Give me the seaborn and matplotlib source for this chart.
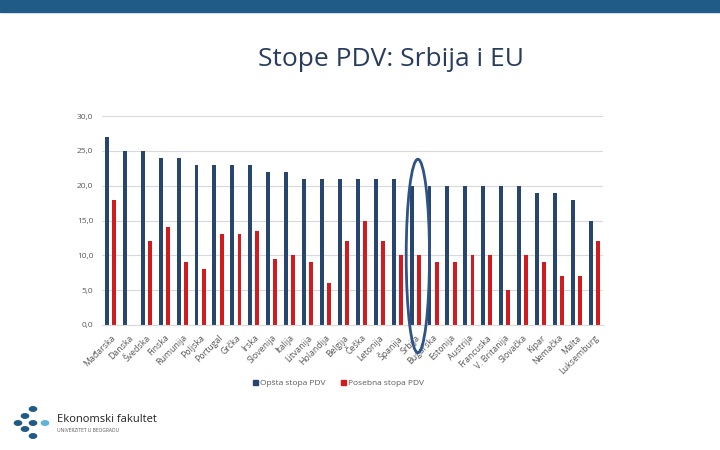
import pandas as pd
import seaborn as sns
import matplotlib.pyplot as plt
from matplotlib.patches import Ellipse, Rectangle

zemlje = ['Mađarska', 'Danska', 'Švedska', 'Finska', 'Rumunija', 'Poljska', 'Portugal',
          'Grčka', 'Irska', 'Slovenija', 'Italija', 'Litvanija', 'Holandija', 'Belgija',
          'Češka', 'Letonija', 'Španija', 'Srbija', 'Bugarska', 'Estonija', 'Austrija',
          'Francuska', 'V. Britanija', 'Slovačka', 'Kipar', 'Nemačka', 'Malta', 'Luksemburg']
opsta = [27, 25, 25, 24, 24, 23, 23, 23, 23, 22, 22, 21, 21, 21,
         21, 21, 21, 20, 20, 20, 20, 20, 20, 20, 19, 19, 18, 15]
posebna = [18, 0, 12, 14, 9, 8, 13, 13, 13.5, 9.5, 10, 9, 6, 12,
           15, 12, 10, 10, 9, 9, 10, 10, 5, 10, 9, 7, 7, 12]
serije = ['Opšta stopa PDV', 'Posebna stopa PDV']
boje = ['#27466f', '#d01c1f']

df = pd.DataFrame({
    'Zemlja': zemlje * 2,
    'Stopa': opsta + posebna,
    'Vrsta': [serije[0]] * len(zemlje) + [serije[1]] * len(zemlje),
})

sns.set_style('white')
plt.rcParams['font.family'] = ['Open Sans', 'DejaVu Sans']

fig = plt.figure(figsize=(7.2, 4.5), dpi=100)
ax = fig.add_axes([0.141, 0.278, 0.697, 0.464])

sns.barplot(data=df, x='Zemlja', y='Stopa', hue='Vrsta', palette=boje,
            width=0.8, gap=0.45, linewidth=0, saturation=1, ax=ax, legend=False)

ax.set_ylim(0, 30)
ax.set_xlim(-0.5, len(zemlje) - 0.5)
ax.set_yticks(range(0, 31, 5))
ax.set_yticklabels([f'{v},0' for v in range(0, 31, 5)], fontsize=6, color='#595959')
ax.set_xticks(range(len(zemlje)))
ax.set_xticklabels(zemlje, rotation=45, ha='right', rotation_mode='anchor',
                   fontsize=6.3, color='#595959')
ax.tick_params(axis='both', length=0, pad=6)
ax.grid(axis='y', color='#d9d9d9', linewidth=0.8)
ax.set_axisbelow(True)
for s in ['top', 'right', 'left']:
    ax.spines[s].set_visible(False)
ax.spines['bottom'].set_color('#d9d9d9')
ax.set_xlabel('')
ax.set_ylabel('')

# Srbija istaknuta elipsom
ax.add_patch(Ellipse((17.15, 9.9), 1.3, 27.8, fill=False, edgecolor='#2f5387',
                     linewidth=2, clip_on=False, zorder=5))

# legenda
handles = [plt.Rectangle((0, 0), 1, 1, color=c) for c in boje]
fig.legend(handles, serije, loc='center', bbox_to_anchor=(0.47, 0.148), ncol=2,
           frameon=False, fontsize=6, handlelength=0.6, handleheight=0.6,
           handletextpad=0.3, columnspacing=1.8, labelcolor='#595959')

# gornja traka i naslov
fig.patches.append(Rectangle((0, 0.973), 1, 0.027, transform=fig.transFigure,
                             color='#1f5b86', zorder=0))
fig.text(0.543, 0.867, 'Stope PDV: Srbija i EU', ha='center', va='center',
         fontsize=19, color='#283d5e')

# logo
tacke = [(33, 409, '#1f5b86'), (25, 416, '#1f5b86'), (18, 423, '#1f5b86'),
         (33, 423, '#1f5b86'), (45, 423, '#5bb6d6'), (25, 429, '#1f5b86'),
         (33, 436, '#1f5b86')]
for x, y, c in tacke:
    fig.patches.append(plt.Circle((x / 720, 1 - y / 450), 3.6 / 720, transform=fig.transFigure,
                                  color=c))
fig.text(57 / 720, 1 - 419 / 450, 'Ekonomski fakultet', fontsize=8, color='#222222',
         va='center')
fig.text(57 / 720, 1 - 430 / 450, 'UNIVERZITET U BEOGRADU', fontsize=3.5, color='#555555',
         va='center')

fig.savefig('out.png', dpi=100)
